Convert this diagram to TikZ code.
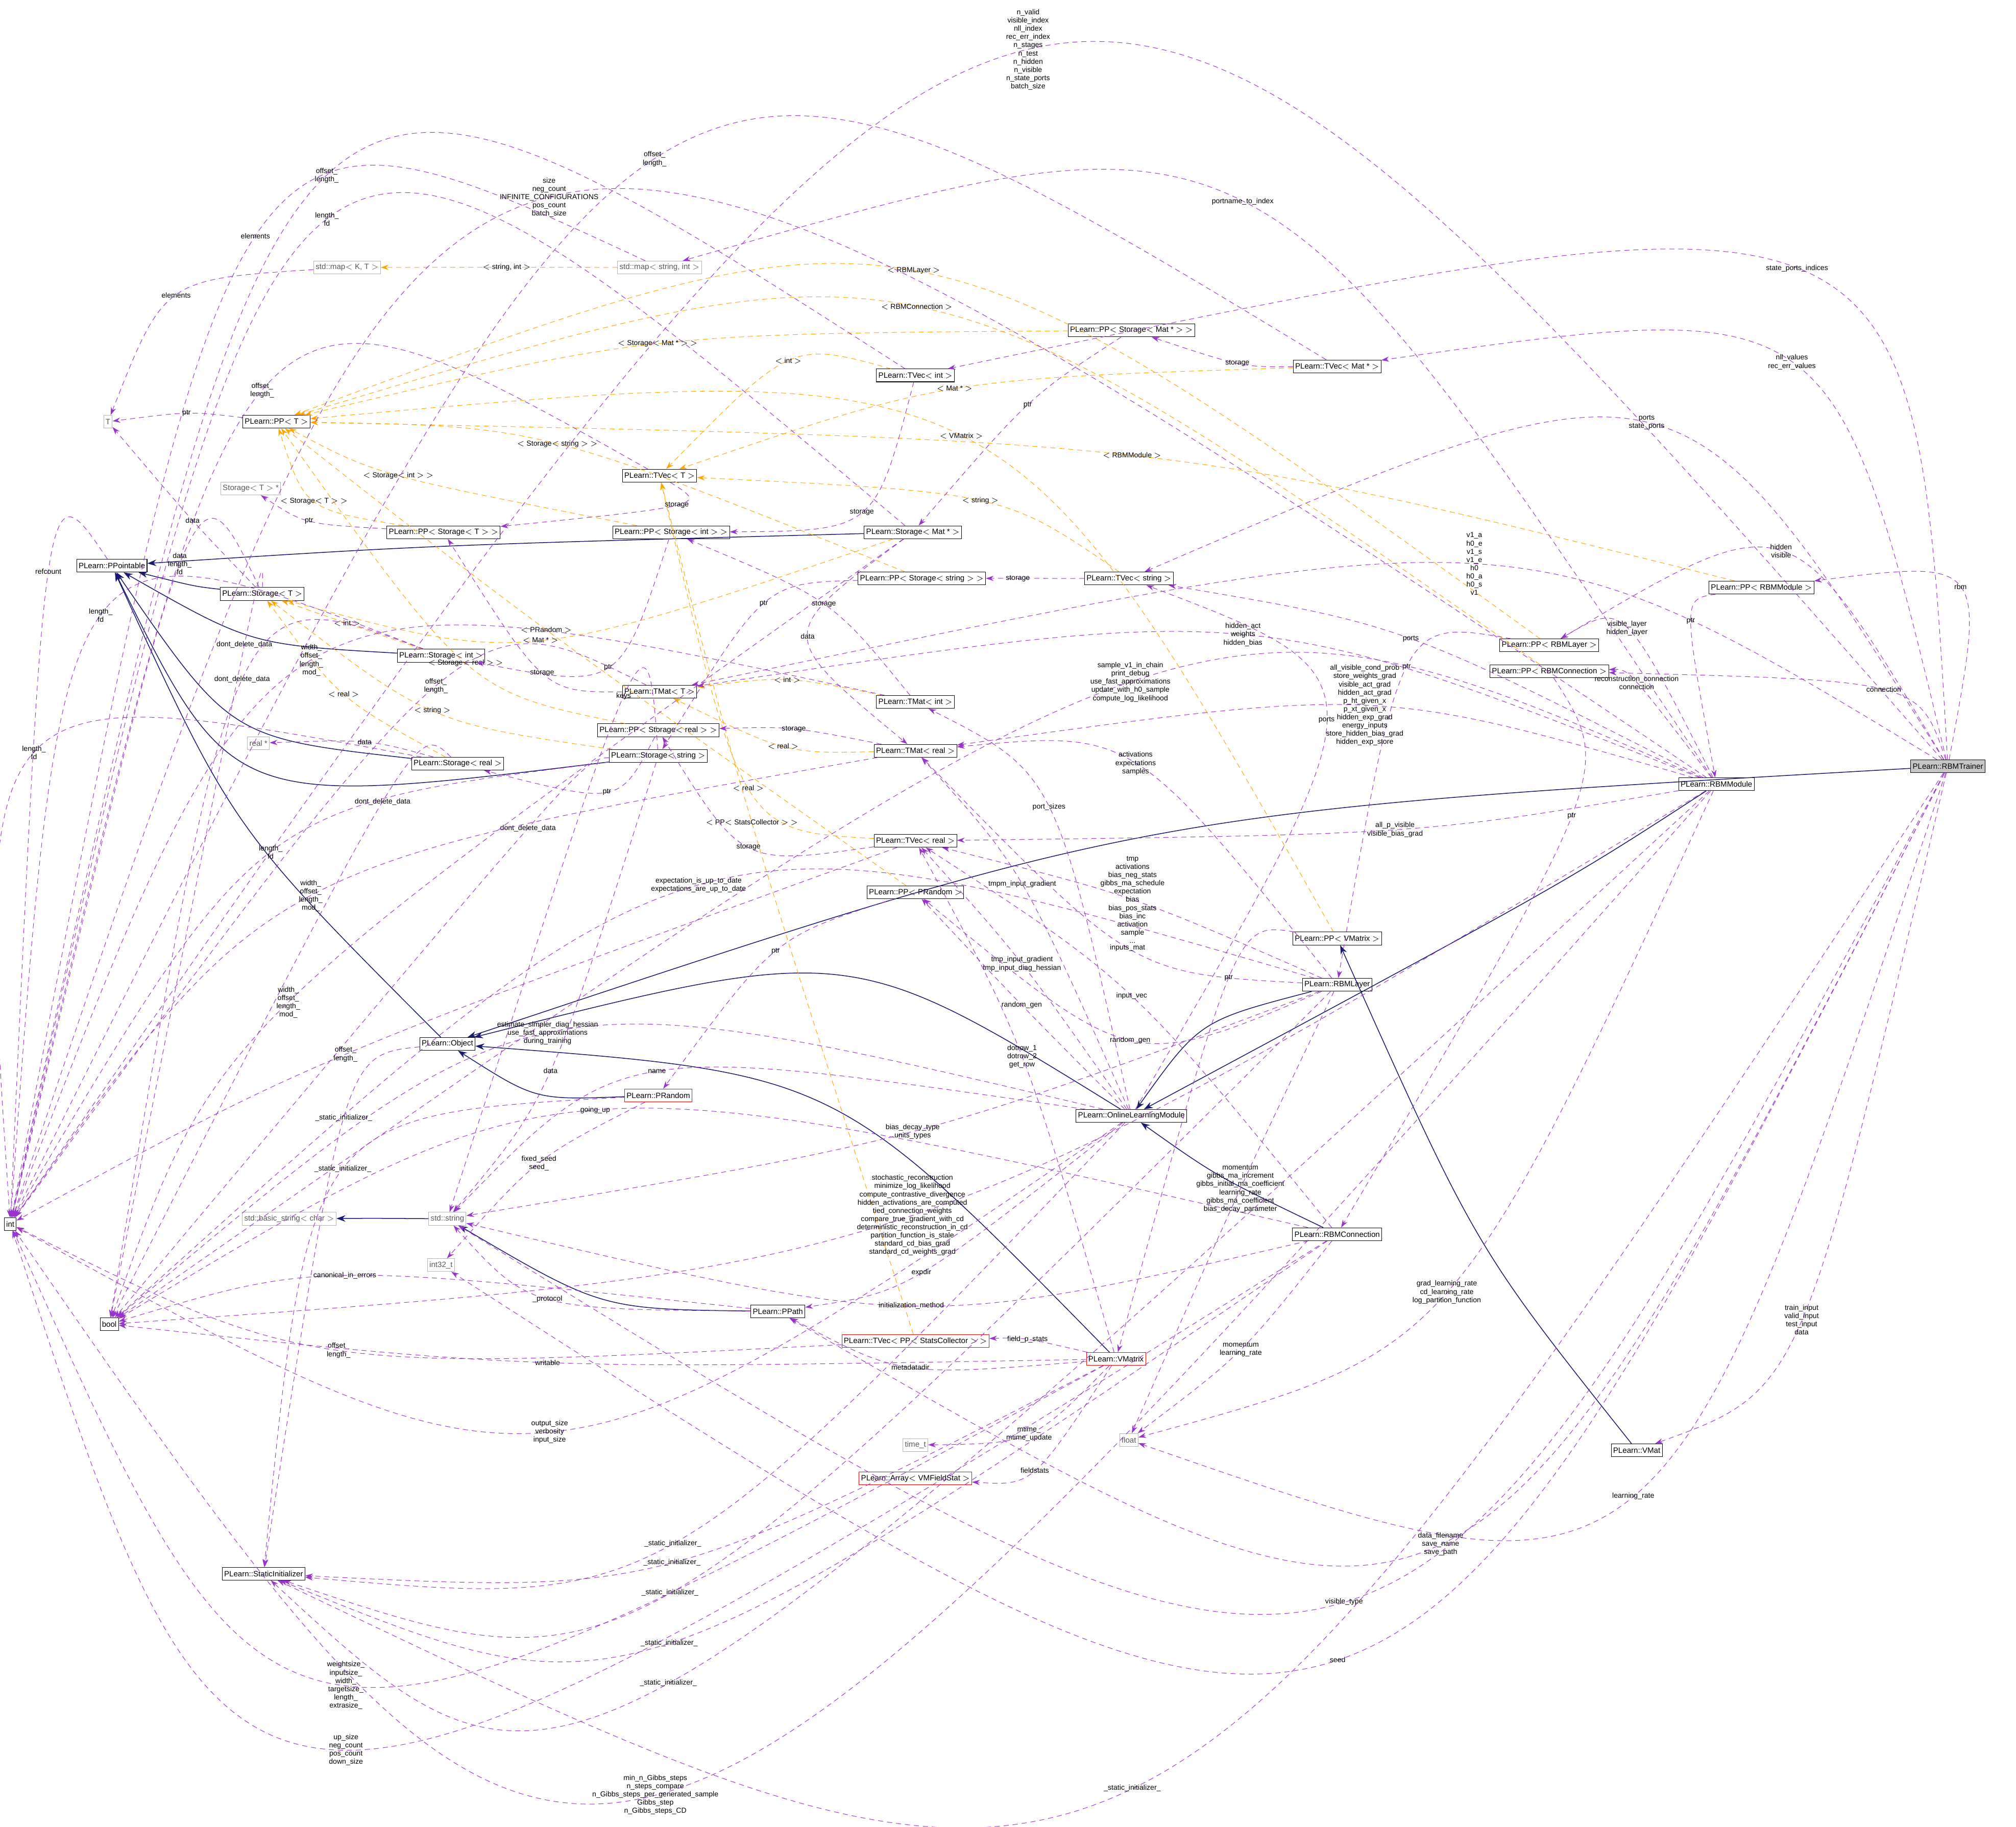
\documentclass[tikz,border=0pt]{standalone}
\usepackage{fontspec}
\setmainfont{Liberation Sans}
\usepackage{tikz}
\usetikzlibrary{arrows.meta}
\usetikzlibrary{calc}
\definecolor{usecol}{HTML}{9A32CD}
\definecolor{tplcol}{HTML}{FFA500}
\definecolor{inhcol}{HTML}{191970}
\tikzset{
  cls/.style={draw=black,fill=white,inner sep=1.5pt,minimum height=10pt,font=\fontsize{6}{7}\selectfont},
  ext/.style={cls,draw=gray!60,text=gray!70!black},
  bad/.style={cls,draw=red},
  lbl/.style={text=black,font=\fontsize{5.6}{6.4}\selectfont,align=center,inner sep=0.5pt},
  use/.style={usecol,dashed,dash pattern=on 4pt off 3pt,-{Stealth[length=6pt,width=4pt]}},
  tpl/.style={tplcol,dashed,dash pattern=on 4pt off 3pt,-{Stealth[length=6pt,width=4pt]}},
  inh/.style={inhcol,semithick,-{Stealth[length=7pt,width=5pt]}},
}
% edge through a label point
\newcommand\rel[5][use]{\draw[#1] (#2) .. controls ($1.333*(#4)-0.1667*(#2)-0.1667*(#3)$) and ($1.333*(#4)-0.1667*(#2)-0.1667*(#3)$) .. node[lbl]{#5} (#3);}

\begin{document}
\begin{tikzpicture}[x=1pt,y=-1pt]
    \useasboundingbox (0,0) rectangle (1568,1421);
    % classes
    \node[cls] (int) at (8,952) {int};
    \node[cls] (bool) at (85,1030) {bool};
    \node[cls] (ppointable) at (87,440) {PLearn::PPointable};
    \node[ext] (T) at (84,328) {T};
    \node[ext] (storageTptr) at (195,380) {Storage$<$ T $>$ *};
    \node[cls] (ppT) at (215,328) {PLearn::PP$<$ T $>$};
    \node[ext] (mapKT) at (270,208) {std::map$<$ K, T $>$};
    \node[ext] (mapSI) at (513,208) {std::map$<$ string, int $>$};
    \node[cls] (storageT) at (204,462) {PLearn::Storage$<$ T $>$};
    \node[cls] (storageInt) at (343,510) {PLearn::Storage$<$ int $>$};
    \node[ext] (realptr) at (201,578) {real *};
    \node[cls] (storageReal) at (356,594) {PLearn::Storage$<$ real $>$};
    \node[cls] (ppStorageT) at (345,414) {PLearn::PP$<$ Storage$<$ T $>$ $>$};
    \node[cls] (ppStorageInt) at (522,414) {PLearn::PP$<$ Storage$<$ int $>$ $>$};
    \node[cls] (tvecT) at (513,370) {PLearn::TVec$<$ T $>$};
    \node[cls] (tvecInt) at (712,292) {PLearn::TVec$<$ int $>$};
    \node[cls] (ppStorageMat) at (880,257) {PLearn::PP$<$ Storage$<$ Mat * $>$ $>$};
    \node[cls] (tvecMat) at (1040,285) {PLearn::TVec$<$ Mat * $>$};
    \node[cls] (storageMat) at (710,414) {PLearn::Storage$<$ Mat * $>$};
    \node[cls] (ppStorageString) at (717,450) {PLearn::PP$<$ Storage$<$ string $>$ $>$};
    \node[cls] (tvecString) at (878,450) {PLearn::TVec$<$ string $>$};
    \node[cls] (tmatT) at (513,538) {PLearn::TMat$<$ T $>$};
    \node[cls] (tmatInt) at (712,546) {PLearn::TMat$<$ int $>$};
    \node[cls] (ppStorageReal) at (512,568) {PLearn::PP$<$ Storage$<$ real $>$ $>$};
    \node[cls] (storageString) at (512,588) {PLearn::Storage$<$ string $>$};
    \node[cls] (tmatReal) at (712,584) {PLearn::TMat$<$ real $>$};
    \node[cls] (tvecReal) at (712,654) {PLearn::TVec$<$ real $>$};
    \node[cls] (ppRandom) at (712,694) {PLearn::PP$<$ PRandom $>$};
    \node[cls] (object) at (348,812) {PLearn::Object};
    \node[bad] (prandom) at (512,852) {PLearn::PRandom};
    \node[ext] (basicString) at (225,948) {std::basic\_string$<$ char $>$};
    \node[ext] (string) at (348,948) {std::string};
    \node[ext] (int32) at (343,984) {int32\_t};
    \node[cls] (ppath) at (605,1020) {PLearn::PPath};
    \node[bad] (tvecStats) at (712,1043) {PLearn::TVec$<$ PP$<$ StatsCollector $>$ $>$};
    \node[bad] (vmatrix) at (868,1057) {PLearn::VMatrix};
    \node[ext] (timet) at (712,1124) {time\_t};
    \node[bad] (arrayStat) at (712,1150) {PLearn::Array$<$ VMFieldStat $>$};
    \node[cls] (staticInit) at (205,1224) {PLearn::StaticInitializer};
    \node[cls] (olm) at (880,868) {PLearn::OnlineLearningModule};
    \node[cls] (connection) at (1040,960) {PLearn::RBMConnection};
    \node[cls] (layer) at (1040,766) {PLearn::RBMLayer};
    \node[cls] (ppVMatrix) at (1040,730) {PLearn::PP$<$ VMatrix $>$};
    \node[cls] (ppLayer) at (1205,502) {PLearn::PP$<$ RBMLayer $>$};
    \node[cls] (ppConnection) at (1205,522) {PLearn::PP$<$ RBMConnection $>$};
    \node[cls] (ppModule) at (1370,457) {PLearn::PP$<$ RBMModule $>$};
    \node[cls] (module) at (1335,610) {PLearn::RBMModule};
    \node[cls,fill=gray!45] (trainer) at (1515,596) {PLearn::RBMTrainer};
    \node[cls] (vmat) at (1273,1128) {PLearn::VMat};
    \node[ext] (float) at (878,1120) {float};
    % inheritance
    \rel[inh]{storageT}{ppointable}{150,455}{}
    \rel[inh]{storageInt}{ppointable}{200,495}{}
    \rel[inh]{storageReal}{ppointable}{190,560}{}
    \rel[inh]{storageString}{ppointable}{210,600}{}
    \rel[inh]{storageMat}{ppointable}{350,425}{}
    \rel[inh]{object}{ppointable}{190,640}{}
    \rel[inh]{prandom}{object}{420,850}{}
    \rel[inh]{ppath}{string}{470,1010}{}
    \rel[inh]{string}{basicString}{290,948}{}
    \rel[inh]{olm}{object}{650,760}{}
    \rel[inh]{layer}{olm}{940,800}{}
    \rel[inh]{connection}{olm}{950,915}{}
    \rel[inh]{module}{olm}{1190,700}{}
    \rel[inh]{trainer}{object}{900,650}{}
    \rel[inh]{vmatrix}{object}{640,860}{}
    \rel[inh]{vmat}{ppVMatrix}{1150,960}{}
    % templates
    \rel[tpl]{mapSI}{mapKT}{395,208}{$<$ string, int $>$}
    \rel[tpl]{ppLayer}{ppT}{710,212}{$<$ RBMLayer $>$}
    \rel[tpl]{ppConnection}{ppT}{712,240}{$<$ RBMConnection $>$}
    \rel[tpl]{ppStorageMat}{ppT}{515,268}{$<$ Storage$<$ Mat * $>$ $>$}
    \rel[tpl]{tvecInt}{tvecT}{615,282}{$<$ int $>$}
    \rel[tpl]{tvecMat}{tvecT}{745,303}{$<$ Mat * $>$}
    \rel[tpl]{ppStorageString}{ppT}{432,346}{$<$ Storage$<$ string $>$ $>$}
    \rel[tpl]{ppStorageInt}{ppT}{312,370}{$<$ Storage$<$ int $>$ $>$}
    \rel[tpl]{ppModule}{ppT}{880,355}{$<$ RBMModule $>$}
    \rel[tpl]{ppVMatrix}{ppT}{745,340}{$<$ VMatrix $>$}
    \rel[tpl]{tvecString}{tvecT}{760,390}{$<$ string $>$}
    \rel[tpl]{ppStorageT}{ppT}{248,390}{$<$ Storage$<$ T $>$ $>$}
    \rel[tpl]{storageInt}{storageT}{270,485}{$<$ int $>$}
    \rel[tpl]{storageMat}{storageT}{420,497}{$<$ Mat * $>$}
    \rel[tpl]{ppRandom}{ppT}{425,490}{$<$ PRandom $>$}
    \rel[tpl]{storageString}{storageT}{340,553}{$<$ string $>$}
    \rel[tpl]{storageReal}{storageT}{268,540}{$<$ real $>$}
    \rel[tpl]{ppStorageReal}{ppT}{365,516}{$<$ Storage$<$ real $>$ $>$}
    \rel[tpl]{tmatInt}{tmatT}{612,530}{$<$ int $>$}
    \rel[tpl]{tmatReal}{tmatT}{612,580}{$<$ real $>$}
    \rel[tpl]{tvecReal}{tvecT}{586,613}{$<$ real $>$}
    \rel[tpl]{tvecStats}{tvecT}{585,640}{$<$ PP$<$ StatsCollector $>$ $>$}
    % uses
    \rel{trainer}{int}{800,40}{n\_valid\\visible\_index\\nll\_index\\rec\_err\_index\\n\_stages\\n\_test\\n\_hidden\\n\_visible\\n\_state\_ports\\batch\_size}
    \rel{tvecMat}{int}{510,125}{offset\_\\length\_}
    \rel{module}{int}{428,155}{size\\neg\_count\\INFINITE\_CONFIGURATIONS\\pos\_count\\batch\_size}
    \rel{tvecInt}{int}{255,138}{offset\_\\length\_}
    \rel{storageMat}{int}{255,172}{length\_\\fd}
    \rel{mapSI}{int}{200,185}{elements}
    \rel{mapKT}{T}{140,230}{elements}
    \rel{module}{mapSI}{965,158}{portname\_to\_index}
    \rel{trainer}{tvecInt}{1395,210}{state\_ports\_indices}
    \rel{tvecMat}{ppStorageMat}{965,282}{storage}
    \rel{trainer}{tvecMat}{1390,283}{nll\_values\\rec\_err\_values}
    \rel{ppStorageMat}{storageMat}{800,315}{ptr}
    \rel{ppT}{T}{148,322}{ptr}
    \rel{tvecT}{int}{205,305}{offset\_\\length\_}
    \rel{trainer}{tvecString}{1280,330}{ports\\state\_ports}
    \rel{tvecT}{ppStorageT}{520,393}{storage}
    \rel{tvecInt}{ppStorageInt}{665,398}{storage}
    \rel{ppStorageT}{storageTptr}{245,405}{ptr}
    \rel{tvecString}{ppStorageString}{790,450}{storage}
    \rel{trainer}{ppLayer}{1385,430}{hidden\\visible}
    \rel{trainer}{ppModule}{1520,458}{rbm}
    \rel{trainer}{tmatT}{1145,440}{v1\_a\\h0\_e\\v1\_s\\v1\_e\\h0\\h0\_a\\h0\_s\\v1}
    \rel{ppModule}{module}{1320,483}{ptr}
    \rel{ppLayer}{layer}{1098,520}{ptr}
    \rel{ppConnection}{connection}{1222,635}{ptr}
    \rel{module}{tvecString}{1095,497}{ports}
    \rel{module}{tmatT}{965,495}{hidden\_act\\weights\\hidden\_bias}
    \rel{module}{ppLayer}{1265,490}{visible\_layer\\hidden\_layer}
    \rel{module}{ppConnection}{1268,532}{reconstruction\_connection\\connection}
    \rel{trainer}{ppConnection}{1460,537}{connection}
    \rel{module}{bool}{880,532}{sample\_v1\_in\_chain\\print\_debug\\use\_fast\_approximations\\update\_with\_h0\_sample\\compute\_log\_likelihood}
    \rel{module}{tmatReal}{1060,550}{all\_visible\_cond\_prob\\store\_weights\_grad\\visible\_act\_grad\\hidden\_act\_grad\\p\_ht\_given\_x\\p\_xt\_given\_x\\hidden\_exp\_grad\\energy\_inputs\\store\_hidden\_bias\_grad\\hidden\_exp\_store}
    \rel{olm}{tvecString}{1030,560}{ports}
    \rel{layer}{tmatReal}{880,595}{activations\\expectations\\samples}
    \rel{module}{tvecReal}{1085,645}{all\_p\_visible\\visible\_bias\_grad}
    \rel{olm}{tmatInt}{815,628}{port\_sizes}
    \rel{layer}{tvecReal}{880,700}{tmp\\activations\\bias\_neg\_stats\\gibbs\_ma\_schedule\\expectation\\bias\\bias\_pos\_stats\\bias\_inc\\activation\\sample\\...}
    \rel{olm}{tmatReal}{795,688}{tmpm\_input\_gradient}
    \rel{olm}{tvecReal}{795,750}{tmp\_input\_gradient\\tmp\_input\_diag\_hessian}
    \rel{layer}{tmatReal}{880,737}{inputs\_mat}
    \rel{ppVMatrix}{vmatrix}{960,762}{ptr}
    \rel{olm}{ppRandom}{795,782}{random\_gen}
    \rel{connection}{tvecReal}{880,775}{input\_vec}
    \rel{layer}{ppRandom}{880,808}{random\_gen}
    \rel{ppRandom}{prandom}{605,740}{ptr}
    \rel{vmatrix}{tvecReal}{795,822}{dotrow\_1\\dotrow\_2\\get\_row}
    \rel{ppStorageInt}{storageInt}{470,518}{ptr}
    \rel{ppStorageReal}{storageReal}{470,615}{ptr}
    \rel{ppStorageString}{storageString}{600,470}{ptr}
    \rel{storageReal}{realptr}{285,578}{data}
    \rel{storageT}{T}{150,405}{data}
    \rel{storageT}{int}{140,440}{data\\length\_\\fd}
    \rel{ppointable}{int}{38,446}{refcount}
    \rel{storageInt}{int}{80,480}{length\_\\fd}
    \rel{tmatT}{int}{340,535}{offset\_\\length\_}
    \rel{tmatInt}{int}{245,515}{width\_\\offset\_\\length\_\\mod\_}
    \rel{storageT}{bool}{190,503}{dont\_delete\_data}
    \rel{storageInt}{bool}{190,530}{dont\_delete\_data}
    \rel{tmatT}{ppStorageT}{425,523}{storage}
    \rel{tmatReal}{ppStorageReal}{615,568}{storage}
    \rel{tvecReal}{ppStorageReal}{586,658}{storage}
    \rel{tmatInt}{ppStorageInt}{640,470}{storage}
    \rel{storageMat}{tmatReal}{630,495}{data}
    \rel{storageString}{string}{485,543}{keys}
    \rel{storageReal}{bool}{298,625}{dont\_delete\_data}
    \rel{storageString}{bool}{415,645}{dont\_delete\_data}
    \rel{storageReal}{int}{30,587}{length\_\\fd}
    \rel{storageString}{int}{215,663}{length\_\\fd}
    \rel{tmatReal}{int}{245,697}{width\_\\offset\_\\length\_\\mod\_}
    \rel{layer}{bool}{545,690}{expectation\_is\_up\_to\_date\\expectations\_are\_up\_to\_date}
    \rel{storageMat}{bool}{225,780}{width\_\\offset\_\\length\_\\mod\_}
    \rel{tvecReal}{int}{270,820}{offset\_\\length\_}
    \rel{olm}{bool}{428,805}{estimate\_simpler\_diag\_hessian\\use\_fast\_approximations\\during\_training}
    \rel{storageString}{string}{428,833}{data}
    \rel{olm}{string}{515,835}{name}
    \rel{connection}{bool}{465,865}{going\_up}
    \rel{layer}{string}{710,880}{bias\_decay\_type\\units\_types}
    \rel{module}{bool}{710,945}{stochastic\_reconstruction\\minimize\_log\_likelihood\\compute\_contrastive\_divergence\\hidden\_activations\_are\_computed\\tied\_connection\_weights\\compare\_true\_gradient\_with\_cd\\deterministic\_reconstruction\_in\_cd\\partition\_function\_is\_stale\\standard\_cd\_bias\_grad\\standard\_cd\_weights\_grad}
    \rel{prandom}{int32}{420,905}{fixed\_seed\\seed\_}
    \rel{object}{staticInit}{270,870}{\_static\_initializer\_}
    \rel{prandom}{staticInit}{270,910}{\_static\_initializer\_}
    \rel{ppath}{string}{428,1010}{\_protocol}
    \rel{ppath}{bool}{270,993}{canonical\_in\_errors}
    \rel{olm}{ppath}{715,990}{expdir}
    \rel{connection}{string}{710,1015}{initialization\_method}
    \rel{vmatrix}{tvecStats}{795,1043}{field\_p\_stats}
    \rel{tvecStats}{int}{270,1050}{offset\_\\length\_}
    \rel{vmatrix}{ppath}{710,1063}{metadatadir}
    \rel{vmatrix}{bool}{428,1060}{writable}
    \rel{olm}{int}{428,1113}{output\_size\\verbosity\\input\_size}
    \rel{layer}{float}{965,925}{momentum\\gibbs\_ma\_increment\\gibbs\_initial\_ma\_coefficient\\learning\_rate\\gibbs\_ma\_coefficient\\bias\_decay\_parameter}
    \rel{module}{float}{1125,1005}{grad\_learning\_rate\\cd\_learning\_rate\\log\_partition\_function}
    \rel{connection}{float}{965,1050}{momentum\\learning\_rate}
    \rel{vmatrix}{timet}{800,1115}{mtime\_\\mtime\_update}
    \rel{vmatrix}{arrayStat}{800,1143}{fieldstats}
    \rel{trainer}{float}{1270,1163}{learning\_rate}
    \rel{trainer}{vmat}{1400,1027}{train\_input\\valid\_input\\test\_input\\data}
    \rel{trainer}{ppath}{1120,1200}{data\_filename\\save\_name\\save\_path}
    \rel{trainer}{string}{1045,1245}{visible\_type}
    \rel{olm}{staticInit}{520,1200}{\_static\_initializer\_}
    \rel{vmatrix}{staticInit}{520,1215}{\_static\_initializer\_}
    \rel{layer}{staticInit}{520,1238}{\_static\_initializer\_}
    \rel{connection}{staticInit}{520,1277}{\_static\_initializer\_}
    \rel{module}{staticInit}{520,1308}{\_static\_initializer\_}
    \rel{trainer}{staticInit}{880,1390}{\_static\_initializer\_}
    \rel{trainer}{int32}{1040,1290}{seed}
    \rel{vmatrix}{int}{270,1310}{weightsize\_\\inputsize\_\\width\_\\targetsize\_\\length\_\\extrasize\_}
    \rel{connection}{int}{270,1360}{up\_size\\neg\_count\\pos\_count\\down\_size}
    \rel{module}{int}{510,1395}{min\_n\_Gibbs\_steps\\n\_steps\_compare\\n\_Gibbs\_steps\_per\_generated\_sample\\Gibbs\_step\\n\_Gibbs\_steps\_CD}
  \end{tikzpicture}
\end{document}
